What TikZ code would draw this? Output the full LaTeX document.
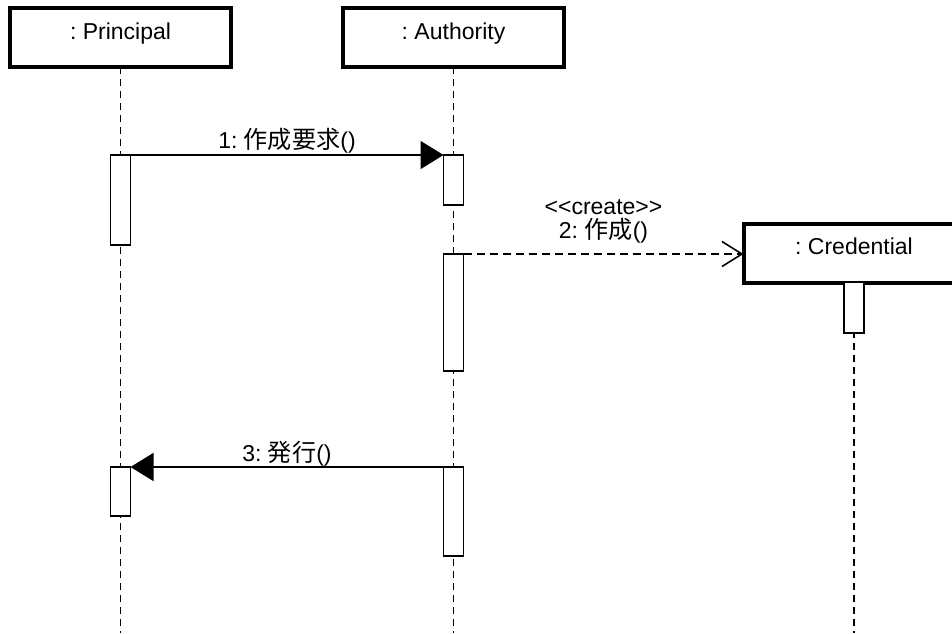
\documentclass[tikz,border=0pt]{standalone}
\usepackage{fontspec}
\newfontfamily\lat{Liberation Sans}
\newfontfamily\jp{Noto Sans CJK JP}[Scale=1.05]
\usetikzlibrary{arrows.meta}
\frenchspacing
\begin{document}
\begin{tikzpicture}[x=1pt,y=-1pt,
  every node/.style={font=\fontsize{23pt}{27pt}\selectfont\lat\frenchspacing},
  objbox/.style={draw, line width=4pt, fill=white, minimum width=221pt,
    minimum height=59pt, outer sep=0pt, inner sep=0pt,
    text height=12pt, text depth=8.4pt},
  lifeline/.style={line width=1.9pt, dash pattern=on 7pt off 5pt},
  actbox/.style={draw, line width=1.8pt, fill=white, minimum width=20pt,
    inner sep=0pt, outer sep=0pt, anchor=north},
  callmsg/.style={line width=1.6pt, -{Triangle[length=23pt,width=28pt]}},
  createmsg/.style={line width=1.6pt, dash pattern=on 8pt off 5pt,
    -{Straight Barb[length=20pt,width=25pt]}},
  msglabel/.style={anchor=base, inner sep=0pt}
]
\useasboundingbox (0,0) rectangle (952,633);
\clip (0,0) rectangle (952,633);

% objects
\node[objbox] (principal) at (120.5,37.5) {: Principal};
\node[objbox] (authority) at (453.5,37.5) {: Authority};
\node[objbox] (cred) at (854,253) {: Credential};

% lifeline ends
\coordinate (pend) at (120.5,633);
\coordinate (aend) at (453.5,633);
\coordinate (cend) at (854,633);

% lifelines
\draw[lifeline] (principal.south) -- (pend);
\draw[lifeline] (authority.south) -- (aend);
\draw[lifeline] (cred.south) -- (cend);

% activation bars
\node[actbox, minimum height=90pt]  (pa1) at (120.5,155) {};
\node[actbox, minimum height=50pt]  (aa1) at (453.5,155) {};
\node[actbox, minimum height=117pt] (aa2) at (453.5,254) {};
\node[actbox, minimum height=50.5pt] (ca1) at (cred.south) {};
\node[actbox, minimum height=49pt]  (pa2) at (120.5,467) {};
\node[actbox, minimum height=89pt]  (aa3) at (453.5,467) {};

% messages
\draw[callmsg] (pa1.north east) --
  node[msglabel, yshift=7pt] {1: {\jp 作成要求}()} (aa1.north west);
\draw[createmsg] (aa2.north east) --
  node[msglabel, yshift=16pt] {2: {\jp 作成}()}
  node[msglabel, yshift=40pt] {<\kern0pt<create>\kern0pt>}
  (aa2.north east -| cred.west);
\draw[callmsg] (aa3.north west) --
  node[msglabel, yshift=6pt] {3: {\jp 発行}()} (pa2.north east);
\end{tikzpicture}
\end{document}
